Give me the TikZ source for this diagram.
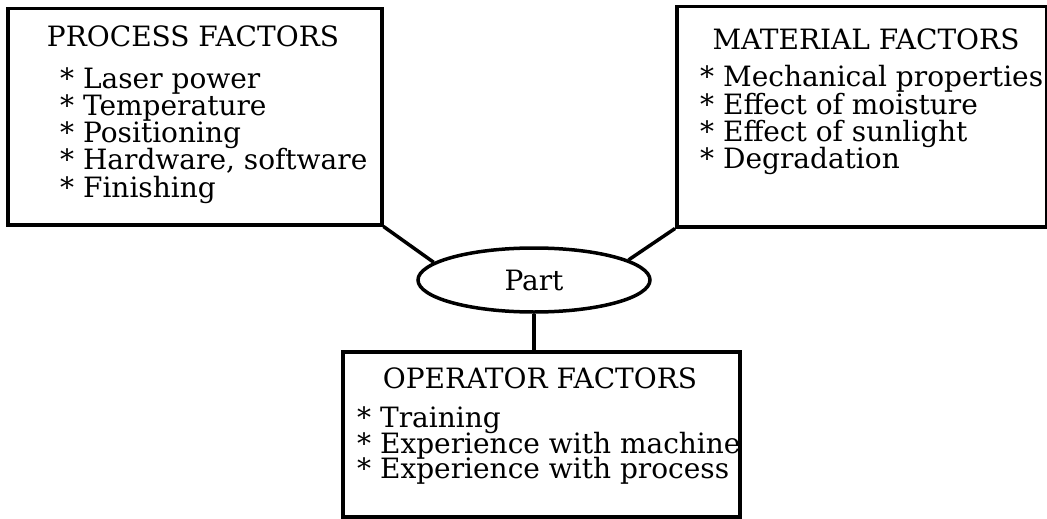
\documentclass[tikz,border=0pt]{standalone}
\usepackage{fontspec}
\setmainfont{DejaVu Serif}
\usetikzlibrary{shapes.geometric, positioning}

\tikzset{
  factorbox/.style={draw, line width=3.5pt, rectangle, anchor=north west, inner sep=0pt},
  heading/.style={anchor=base, inner sep=0pt},
  factor/.style={anchor=base west, inner sep=0pt},
  link/.style={line width=3.5pt},
}

\begin{document}
\begin{tikzpicture}[x=1pt, y=-1pt, font=\fontsize{28}{28}\selectfont]
  \useasboundingbox (0,0) rectangle (1047,519);

  % process factors, top left
  \node[factorbox, minimum width=374pt, minimum height=216pt] (process) at (6,7) {};
  \node[heading] (process-title) at (193,47) {PROCESS FACTORS};
  \foreach \txt [count=\i] in {Laser power, Temperature, Positioning, {Hardware, software}, Finishing}
    \node[factor] (process-\i) at (60, 61+27.2*\i) {* \txt};

  % material factors, top right
  \node[factorbox, minimum width=370pt, minimum height=220pt] (material) at (675,5) {};
  \node[heading] (material-title) at (866,50) {MATERIAL FACTORS};
  \foreach \txt [count=\i] in {Mechanical properties, Effect of moisture, Effect of sunlight, Degradation}
    \node[factor] (material-\i) at (700, 60+27*\i) {* \txt};

  % operator factors, bottom
  \node[factorbox, minimum width=397pt, minimum height=165pt] (operator) at (341,350) {};
  \node[heading] (operator-title) at (540,388) {OPERATOR FACTORS};
  \foreach \txt [count=\i] in {Training, Experience with machine, Experience with process}
    \node[factor] (operator-\i) at (357, 402+25.5*\i) {* \txt};

  % the part in the middle
  \node[draw, ellipse, line width=3.5pt, minimum width=232pt, minimum height=64pt, inner sep=0pt] (part) at (534,280) {Part};

  \draw[link] (process.south east) -- (part.170);
  \draw[link] (material.south west) -- (part.12);
  \draw[link] (part.south) -- (part.south |- operator.north);
\end{tikzpicture}
\end{document}
